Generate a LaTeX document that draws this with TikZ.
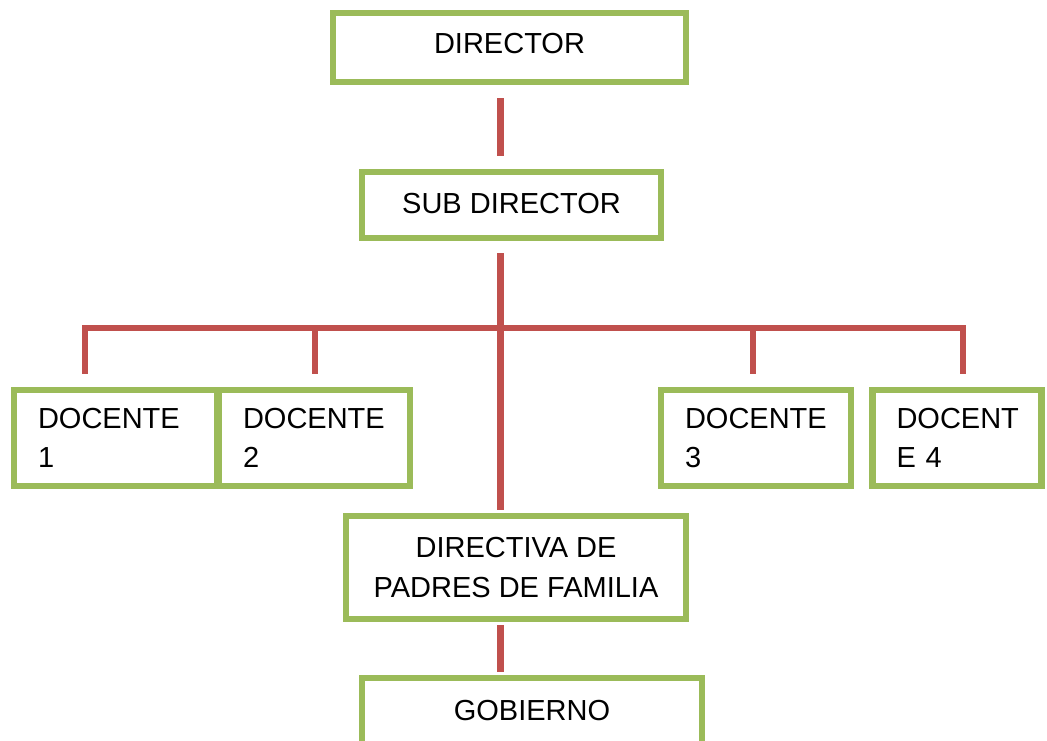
\documentclass[tikz,border=0pt]{standalone}
\usepackage{fontspec}
\setmainfont{Liberation Sans}
\definecolor{boxgreen}{HTML}{9BBB59}
\definecolor{linered}{HTML}{C0504D}
\begin{document}
\begin{tikzpicture}[x=1pt,y=-1pt,
  box/.style={draw=boxgreen, line width=6.5pt, inner sep=0pt, align=center,
    font=\fontsize{29}{40}\selectfont},
  docbox/.style={box, align=left, inner xsep=24pt, minimum height=96pt,
    font=\fontsize{29}{39}\selectfont},
  conn/.style={draw=linered, line width=6.5pt},
  lbl/.style={inner sep=0pt, font=\fontsize{29}{40}\selectfont}]
\useasboundingbox (0,0) rectangle (1047,740);
\clip (0,0) rectangle (1047,740);

\node[box, minimum width=353pt, minimum height=69pt, text depth=8pt] (dir) at (509.5,47.5) {DIRECTOR};
\node[box, minimum width=299pt, minimum height=66pt, text depth=4pt] (sub) at (511.5,205) {SUB DIRECTOR};

\node[docbox, text width=155pt] (d1) at (115.5,438) {DOCENTE\\1};
\node[docbox, text width=143pt] (d2) at (314.5,438) {DOCENTE\\2};
\node[docbox, text width=142pt] (d3) at (756,438) {DOCENTE\\3};
\node[docbox, text width=121pt] (d4) at (957,438) {DOCENT\\E 4};

\node[box, minimum width=340pt, minimum height=103pt] (dpf) at (516,567.5) {DIRECTIVA DE\\PADRES DE FAMILIA};
\node[box, minimum width=340pt, minimum height=103pt] (gob) at (532,729.5) {};
\node[lbl, anchor=base] (gobt) at (532,720) {GOBIERNO};

\coordinate (spine) at (500.5,0);
\coordinate (b1) at (85,328);
\coordinate (b2) at (315,328);
\coordinate (b3) at (753,328);
\coordinate (b4) at (963,328);

\draw[conn, shorten <=13pt, shorten >=13pt] (spine |- dir.south) -- (spine |- sub.north);
\draw[conn, shorten <=12pt, shorten >=3pt] (spine |- sub.south) -- (spine |- dpf.north);
\draw[conn, shorten <=13pt, shorten >=13pt] (b1 |- d1.north) -- (b1) -- (b4) -- (b4 |- d4.north);
\draw[conn, shorten >=13pt] (b2) -- (b2 |- d2.north);
\draw[conn, shorten >=13pt] (b3) -- (b3 |- d3.north);
\draw[conn, shorten <=3pt, shorten >=3pt] (spine |- dpf.south) -- (spine |- gob.north);
\end{tikzpicture}
\end{document}
